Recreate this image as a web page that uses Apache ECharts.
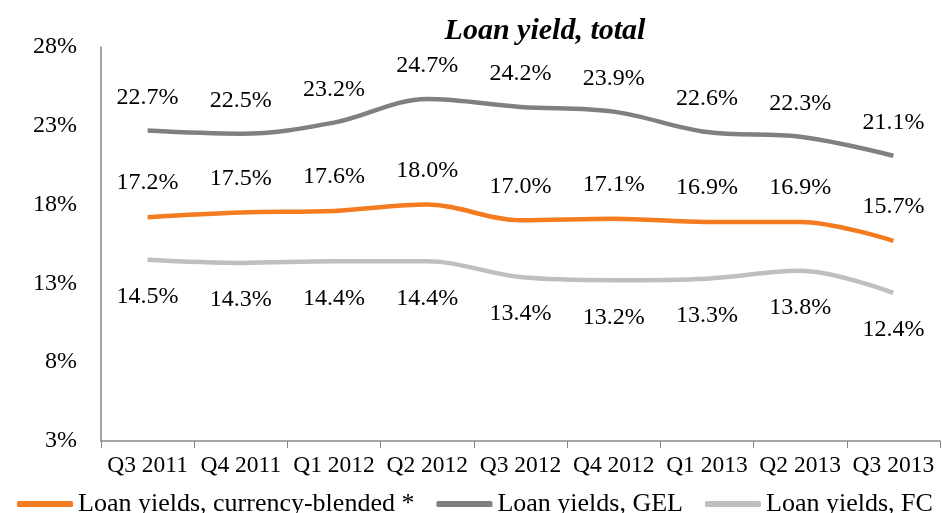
<!DOCTYPE html>
<html>
<head>
<meta charset="utf-8">
<script src="https://cdn.jsdelivr.net/npm/echarts@6/dist/echarts.min.js"></script>
<style>
  html, body { margin: 0; padding: 0; background: #fff; }
  #chart { width: 942px; height: 513px; }
</style>
</head>
<body>
<div id="chart"></div>
<script>
  const categories = ["Q3 2011", "Q4 2011", "Q1 2012", "Q2 2012", "Q3 2012", "Q4 2012", "Q1 2013", "Q2 2013", "Q3 2013"];
  const blended = [17.2, 17.5, 17.6, 18.0, 17.0, 17.1, 16.9, 16.9, 15.7];
  const gel = [22.7, 22.5, 23.2, 24.7, 24.2, 23.9, 22.6, 22.3, 21.1];
  const fc = [14.5, 14.3, 14.4, 14.4, 13.4, 13.2, 13.3, 13.8, 12.4];

  const font = "'Liberation Serif', 'Times New Roman', serif";
  const chart = echarts.init(document.getElementById("chart"));

  function line(name, data, color, pos, dist) {
    return {
      name: name,
      type: "line",
      data: data,
      smooth: 0.35,
      symbol: "circle",
      symbolSize: 0.1,
      showSymbol: true,
      lineStyle: { color: color, width: 4.5 },
      itemStyle: { color: color },
      label: {
        show: true,
        position: pos,
        distance: dist,
        formatter: p => p.value.toFixed(1) + "%",
        fontFamily: font,
        fontSize: 24,
        color: "#000"
      }
    };
  }

  chart.setOption({
    animation: false,
    title: {
      text: "Loan yield, total",
      left: 540,
      top: 11,
      textAlign: "center",
      textStyle: { fontFamily: font, fontSize: 30, fontWeight: "bold", fontStyle: "italic", color: "#000" }
    },
    grid: { left: 101, right: 2, top: 47, bottom: 72 },
    legend: {
      top: 486,
      left: 12,
      width: 930,
      itemWidth: 56,
      itemHeight: 6,
      itemGap: 22,
      icon: "roundRect",
      textStyle: { fontFamily: font, fontSize: 26, color: "#000" },
      data: ["Loan yields, currency-blended *", "Loan yields, GEL", "Loan yields, FC"]
    },
    xAxis: {
      type: "category",
      data: categories,
      boundaryGap: true,
      axisLine: { lineStyle: { color: "#868686", width: 1.5 } },
      axisTick: { show: true, interval: 0, length: 7, lineStyle: { color: "#868686" } },
      axisLabel: { interval: 0, fontFamily: font, fontSize: 23.5, color: "#000", margin: 13 }
    },
    yAxis: {
      type: "value",
      min: 3,
      max: 28,
      interval: 5,
      splitLine: { show: false },
      axisLine: { show: true, lineStyle: { color: "#868686", width: 1.5 } },
      axisTick: { show: false },
      axisLabel: { fontFamily: font, fontSize: 24, color: "#000", margin: 24, formatter: v => v + "%" }
    },
    series: [
      line("Loan yields, currency-blended *", blended, "#F47B20", "top", 22),
      line("Loan yields, GEL", gel, "#808080", "top", 21),
      line("Loan yields, FC", fc, "#BFBFBF", "bottom", 25)
    ]
  });

  window.addEventListener("resize", () => chart.resize());
</script>
</body>
</html>
